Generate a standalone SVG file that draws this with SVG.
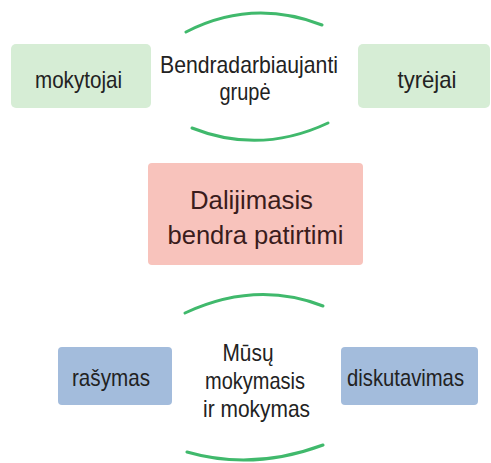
<svg xmlns="http://www.w3.org/2000/svg" width="491" height="463" viewBox="0 0 491 463">
<style>
.t{font-family:"Liberation Sans",Arial,sans-serif;font-size:24px;fill:#222222;text-anchor:middle}
.c{font-family:"Liberation Sans",Arial,sans-serif;font-size:26px;fill:#3a1c1c;text-anchor:middle}
.g{fill:#d6edd5}
.p{fill:#f8c3bc}
.b{fill:#a3bcdc}
.arc{fill:none;stroke:#40b96c;stroke-width:3;stroke-linecap:round}
</style>
<rect width="491" height="463" fill="#ffffff"/>
<g id="connectors">
<path class="arc" d="M186,32 Q252,-2 322,25"/>
<path class="arc" d="M192,128 Q260,155 328,123"/>
<path class="arc" d="M185,313 Q256,280 323,306"/>
<path class="arc" d="M187,452 Q253,471 323,445"/>
</g>
<g id="mokytojai">
<rect class="g" x="11" y="44" width="140" height="64" rx="5"/>
<text class="t" x="78.5" y="88" textLength="87" lengthAdjust="spacingAndGlyphs">mokytojai</text>
</g>
<g id="bendradarbiaujanti">
<text class="t" x="249" y="72.5" textLength="178" lengthAdjust="spacingAndGlyphs">Bendradarbiaujanti</text>
<text class="t" x="245" y="100" textLength="51" lengthAdjust="spacingAndGlyphs">grupė</text>
</g>
<g id="tyrejai">
<rect class="g" x="358" y="44" width="132" height="64" rx="5"/>
<text class="t" x="427" y="88" textLength="59" lengthAdjust="spacingAndGlyphs">tyrėjai</text>
</g>
<g id="dalijimasis">
<rect class="p" x="148" y="163" width="215" height="102" rx="4"/>
<text class="c" x="251.5" y="209" textLength="123" lengthAdjust="spacingAndGlyphs">Dalijimasis</text>
<text class="c" x="255.5" y="244" textLength="176" lengthAdjust="spacingAndGlyphs">bendra patirtimi</text>
</g>
<g id="rasymas">
<rect class="b" x="58" y="347" width="114" height="58" rx="4"/>
<text class="t" x="111" y="386" textLength="78" lengthAdjust="spacingAndGlyphs">rašymas</text>
</g>
<g id="musu">
<text class="t" x="248" y="361" textLength="51" lengthAdjust="spacingAndGlyphs">Mūsų</text>
<text class="t" x="255" y="389" textLength="100" lengthAdjust="spacingAndGlyphs">mokymasis</text>
<text class="t" x="256.5" y="417" textLength="107" lengthAdjust="spacingAndGlyphs">ir mokymas</text>
</g>
<g id="diskutavimas">
<rect class="b" x="341" y="347" width="137" height="58" rx="4"/>
<text class="t" x="405.5" y="386" textLength="117" lengthAdjust="spacingAndGlyphs">diskutavimas</text>
</g>
</svg>
